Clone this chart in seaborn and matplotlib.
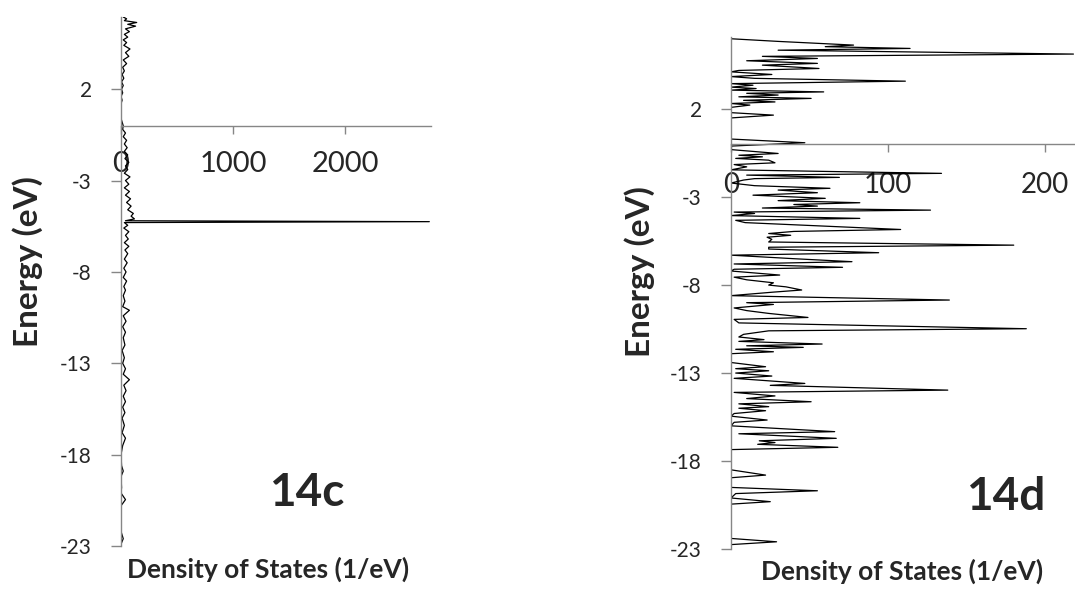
import matplotlib
matplotlib.use("Agg")
import matplotlib.pyplot as plt
import seaborn as sns
import pandas as pd

# ---------------- DATA ----------------
# panel 14c : energy (eV) and density of states (1/eV)
energy_c = [5.95, 5.85, 5.75, 5.65, 5.55, 5.45, 5.3, 5.15, 5.0, 4.85, 4.7, 4.55, 4.4, 4.2, 4.0,
            3.8, 3.6, 3.4, 3.2, 3.0, 2.8, 2.6, 2.4, 2.2, 2.0, 1.8, 1.6, 1.4, 1.2, 0.8, 0.4, 0.2,
            0.0, -0.2, -0.4, -0.6, -0.8, -1.0, -1.2, -1.4, -1.6, -1.8, -2.0, -2.2, -2.4, -2.6,
            -2.8, -3.0, -3.2, -3.4, -3.6, -3.8, -4.0, -4.2, -4.4, -4.6, -4.8, -4.95, -5.1, -5.2,
            -5.25, -5.3, -5.45, -5.6, -5.8, -6.0, -6.2, -6.4, -6.6, -6.8, -7.0, -7.3, -7.5, -7.8,
            -8.0, -8.3, -8.5, -8.8, -9.0, -9.3, -9.6, -9.9, -10.1, -10.4, -10.7, -11.0, -11.3,
            -11.6, -12.0, -12.3, -12.7, -13.0, -13.3, -13.6, -13.9, -14.2, -14.5, -14.8, -15.1,
            -15.4, -15.7, -16.0, -16.4, -16.8, -17.1, -17.5, -18.0, -18.6, -18.9, -19.2, -19.8,
            -20.1, -20.46, -20.8, -21.5, -22.2, -22.6, -22.9]
dos_c = [20, 50, 30, 140, 60, 130, 40, 75, 30, 60, 20, 50, 25, 80, 40,
         70, 20, 50, 15, 30, 10, 25, 5, 20, 5, 15, 0, 10, 0, 0, 0, 10,
         20, 15, 40, 20, 50, 30, 55, 30, 60, 35, 70, 40, 60, 30,
         80, 40, 70, 30, 75, 40, 85, 50, 90, 60, 110, 90, 120, 40,
         2750, 30, 60, 25, 70, 40, 65, 30, 70, 35, 60, 30, 55, 25,
         45, 20, 50, 25, 40, 20, 35, 15, 75, 20, 45, 15, 40,
         20, 35, 10, 30, 15, 40, 20, 75, 25, 45, 20, 40,
         15, 35, 10, 30, 10, 40, 15, 0, 5, 20, 0, 5,
         0, 40, 0, 0, 0, 20, 0]

# panel 14d
energy_d = [6.0, 5.85, 5.7, 5.64, 5.55, 5.45, 5.35, 5.13, 5.0, 4.88, 4.75, 4.6, 4.5, 4.31, 4.2,
            4.12, 3.97, 3.85, 3.75, 3.59, 3.45, 3.36, 3.25, 3.17, 3.08, 2.98, 2.9, 2.8, 2.7, 2.61,
            2.5, 2.41, 2.32, 2.23, 2.1, 1.8, 1.66, 1.5, 0.3, 0.09, -0.1, -0.3, -0.52, -0.62, -0.71,
            -0.8, -0.9, -1.05, -1.15, -1.28, -1.45, -1.65, -1.75, -1.88, -1.95, -2.03, -2.2, -2.35,
            -2.5, -2.6, -2.75, -2.89, -3.07, -3.2, -3.32, -3.42, -3.51, -3.62, -3.74, -3.85, -3.93,
            -4.05, -4.21, -4.32, -4.45, -4.65, -4.84, -4.95, -5.07, -5.17, -5.28, -5.4, -5.55,
            -5.73, -5.85, -5.95, -6.16, -6.3, -6.5, -6.67, -6.8, -6.99, -7.1, -7.2, -7.43, -7.55,
            -7.7, -7.87, -8.0, -8.1, -8.28, -8.4, -8.6, -8.85, -9.0, -9.1, -9.3, -9.45, -9.61,
            -9.84, -9.95, -10.15, -10.48, -10.6, -10.8, -10.95, -11.1, -11.2, -11.35, -11.45,
            -11.54, -11.65, -11.79, -11.9, -12.4, -12.64, -12.75, -12.87, -13.0, -13.17, -13.3,
            -13.59, -13.7, -13.97, -14.1, -14.3, -14.45, -14.63, -14.75, -14.91, -15.0, -15.14,
            -15.3, -15.45, -15.67, -15.8, -16.0, -16.33, -16.45, -16.71, -16.85, -16.95, -17.05,
            -17.22, -17.35, -18.5, -18.8, -18.95, -19.5, -19.69, -19.85, -20.1, -20.31, -20.45,
            -22.4, -22.59, -22.75, -23.0]
dos_d = [0, 30, 65, 78, 60, 114, 30, 218, 20, 55, 10, 55, 20, 56, 5,
         0, 26, 0, 15, 111, 0, 14, 0, 16, 0, 59, 10, 30, 5, 51,
         8, 28, 0, 12, 0, 0, 27, 0, 0, 47, 0, 0, 30, 5, 20,
         3, 24, 28, 2, 10, 0, 134, 10, 69, 15, 8, 0, 15,
         63, 30, 55, 14, 60, 30, 82, 40, 55, 20, 127, 2, 15,
         0, 82, 3, 9, 60, 108, 40, 24, 38, 23, 26, 24,
         180, 24, 24, 94, 0, 40, 77, 2, 71, 2, 0, 31, 2,
         10, 27, 24, 35, 45, 27, 0, 139, 10, 27, 2, 10, 24,
         49, 2, 5, 188, 24, 8, 5, 21, 5, 58, 10,
         46, 3, 27, 0, 0, 22, 3, 24, 3, 26, 2,
         47, 25, 138, 2, 28, 10, 51, 5, 24, 5, 22,
         2, 0, 23, 2, 0, 66, 5, 67, 18, 28, 17,
         68, 0, 0, 22, 0, 0, 55, 3, 0, 25, 0,
         0, 29, 0, 0]

energy_ticks = [2, -3, -8, -13, -18, -23]
xticks_c = [0, 1000, 2000]
xticks_d = [0, 100, 200]

df_c = pd.DataFrame({"energy": energy_c, "dos": dos_c})
df_d = pd.DataFrame({"energy": energy_d, "dos": dos_d})

# ---------------- PLOT ----------------
sns.set_style("white")
plt.rcParams["font.family"] = ["Lato", "DejaVu Sans"]
plt.rcParams["axes.unicode_minus"] = False

fig = plt.figure(figsize=(10.75, 5.9), dpi=100)
W, H = 1075, 590
ax_c = fig.add_axes([121 / W, 1 - 546 / H, 310 / W, 529 / H])
ax_d = fig.add_axes([731 / W, 1 - 549 / H, 344 / W, 512 / H])

panels = [
    (ax_c, df_c, (0, 2765), (-23, 5.95), xticks_c, 21, 12),
    (ax_d, df_d, (0, 219), (-23, 6.1), xticks_d, 20, 14),
]

for ax, df, xlim, ylim, xt, xsize, xpad in panels:
    sns.lineplot(data=df, x="dos", y="energy", sort=False, estimator=None,
                 color="black", linewidth=0.9, ax=ax)
    ax.set_xlim(*xlim)
    ax.set_ylim(*ylim)
    ax.set_xticks(xt)
    ax.set_yticks(energy_ticks)
    ax.set_xlabel("")
    ax.set_ylabel("")
    ax.spines["left"].set_position(("data", 0))
    ax.spines["bottom"].set_position(("data", 0))
    ax.spines["top"].set_visible(False)
    ax.spines["right"].set_visible(False)
    for s in ("left", "bottom"):
        ax.spines[s].set_color("#868686")
        ax.spines[s].set_linewidth(1.0)
    ax.tick_params(axis="x", direction="out", length=6, width=1, color="#868686",
                   labelsize=xsize, pad=xpad, bottom=True)
    ax.tick_params(axis="y", direction="out", length=7, width=1, color="#868686",
                   labelsize=15, pad=14, left=True)
    ax.patch.set_alpha(0)

# axis titles and panel tags
fig.text(28 / W, 1 - 262 / H, "Energy (eV)", rotation=90, ha="center", va="center",
         fontsize=24, fontweight="bold")
fig.text(640 / W, 1 - 272 / H, "Energy (eV)", rotation=90, ha="center", va="center",
         fontsize=24, fontweight="bold")
fig.text(268 / W, 1 - 569 / H, "Density of States (1/eV)", ha="center", va="center",
         fontsize=19, fontweight="bold")
fig.text(902 / W, 1 - 571 / H, "Density of States (1/eV)", ha="center", va="center",
         fontsize=19, fontweight="bold")
fig.text(307 / W, 1 - 493 / H, "14c", ha="center", va="center", fontsize=33, fontweight="bold")
fig.text(1006 / W, 1 - 497 / H, "14d", ha="center", va="center", fontsize=33, fontweight="bold")

plt.savefig("out.png", dpi=100)
